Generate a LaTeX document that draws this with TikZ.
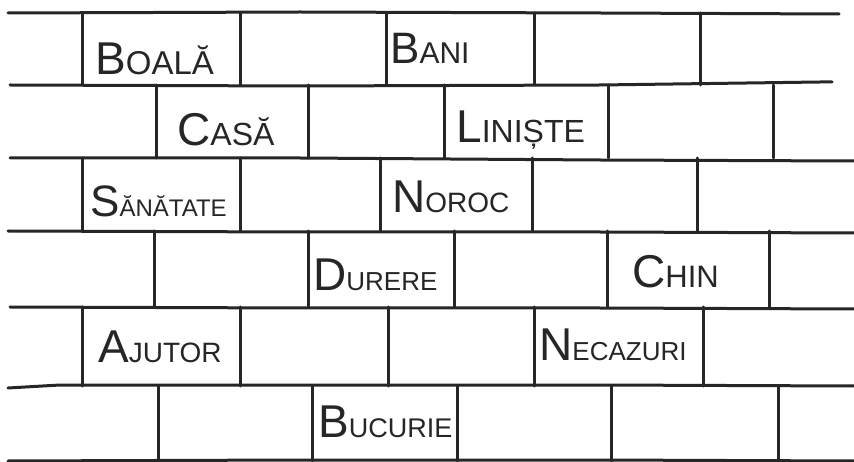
\documentclass[tikz,border=0pt]{standalone}
\usepackage{fontspec}
\setmainfont{Liberation Sans}
\definecolor{ink}{RGB}{38,38,38}
\newcommand\bword[4]{{\fontsize{#1}{#1}\selectfont #2}{\fontsize{#3}{#3}\selectfont #4}}
\begin{document}
\begin{tikzpicture}[x=1pt,y=-1pt,
  brickline/.style={line width=3pt,draw=ink,line cap=round},
  word/.style={inner sep=0pt,anchor=base west,text=ink}]
\useasboundingbox[fill=white] (0,0) rectangle (854,462);
% horizontal mortar lines
\draw[brickline] (8,13) -- (300,12) -- (600,13) -- (839,14);
\draw[brickline] (10,85) -- (300,86) -- (600,85) -- (820,82) -- (832,82);
\draw[brickline] (10,158) -- (300,158) -- (600,160) -- (854,161);
\draw[brickline] (8,231) -- (300,232) -- (600,232) -- (854,233);
\draw[brickline] (10,307) -- (300,308) -- (600,308) -- (854,309);
\draw[brickline] (8,388) -- (60,385) -- (300,385) -- (600,385) -- (854,386);
\draw[brickline] (8,461) -- (300,460) -- (600,460) -- (854,461);
% vertical joints, row 1
\foreach \x in {82,240,386,534,700} \draw[brickline] (\x,13) -- (\x,85);
% row 2
\foreach \x in {156,308,444,608,773} \draw[brickline] (\x,85) -- (\x,158);
% row 3
\foreach \x in {82,240,380,532,697} \draw[brickline] (\x,158) -- (\x,231);
% row 4
\foreach \x in {154,308,454,607,769} \draw[brickline] (\x,231) -- (\x,307);
% row 5
\foreach \x in {82,240,388,534,703} \draw[brickline] (\x,307) -- (\x,386);
% row 6
\foreach \x in {158,312,457,611,778} \draw[brickline] (\x,386) -- (\x,461);
% words
\node[word] (boala) at (95,75) {\bword{46}{B}{33}{OALĂ}};
\node[word] (bani) at (390,64) {\bword{44}{B}{30}{ANI}};
\node[word] (casa) at (177,146) {\bword{46}{C}{32}{ASĂ}};
\node[word] (liniste) at (456,143) {\bword{46}{L}{32}{INIȘTE}};
\node[word] (sanatate) at (90,217) {\bword{44}{S}{24}{ĂNĂTATE}};
\node[word] (noroc) at (392,213) {\bword{46}{N}{28}{OROC}};
\node[word] (durere) at (313,291) {\bword{46}{D}{26}{URERE}};
\node[word] (chin) at (632,288) {\bword{46}{C}{31}{HIN}};
\node[word] (ajutor) at (98,362) {\bword{46}{A}{28}{JUTOR}};
\node[word] (necazuri) at (539,360) {\bword{46}{N}{26}{ECAZURI}};
\node[word] (bucurie) at (318,437) {\bword{46}{B}{27}{UCURIE}};
\end{tikzpicture}
\end{document}
